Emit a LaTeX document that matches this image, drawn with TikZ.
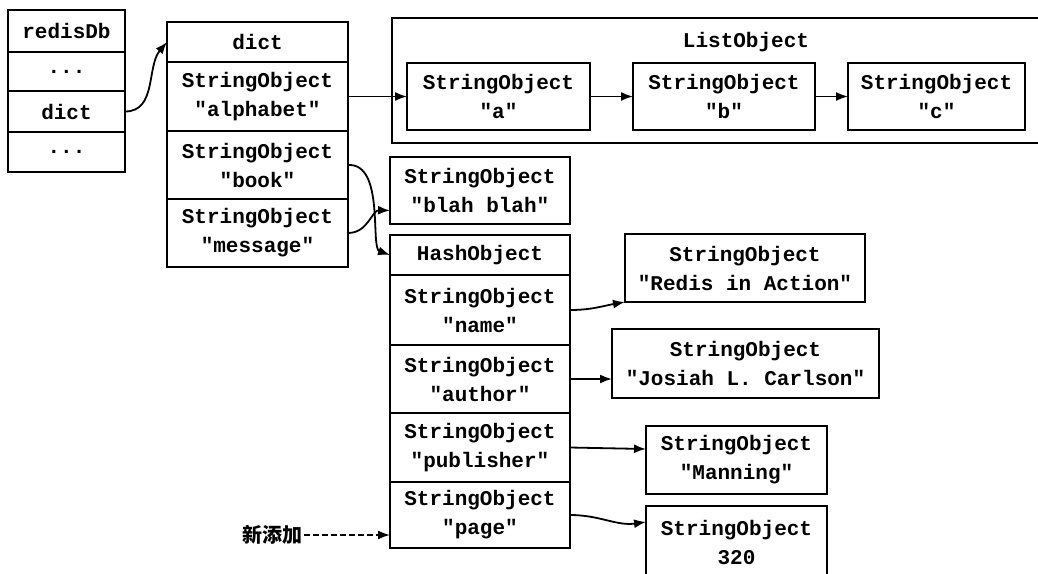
\documentclass[tikz,border=0pt]{standalone}
\usepackage{fontspec}
\setmonofont{Liberation Mono}
\newfontfamily\cjkfont{Noto Sans CJK SC}
\usetikzlibrary{arrows.meta, positioning}
\tikzset{
    cell/.style={draw, line width=1.3pt, outer sep=0pt, inner sep=0pt, align=center,
                 font=\ttfamily\bfseries\fontsize{10.5}{14.5}\selectfont},
    dbrow/.style={cell, minimum width=58.5pt},
    dictrow/.style={cell, minimum width=90.5pt},
    hashrow/.style={cell, minimum width=90pt},
    ptr/.style={-{Latex[length=6pt,width=4.5pt]}, line width=0.9pt},
}

\begin{document}
\begin{tikzpicture}[x=0.5pt, y=0.5pt]
    \useasboundingbox (0,0) rectangle (1038,-573);
    \clip (0,0) rectangle (1038,-573);

    % redisDb
    \node[dbrow, anchor=north west, minimum height=21pt] (dbHead) at (8,-10) {redisDb};
    \node[dbrow, below=0pt of dbHead, minimum height=19.5pt] (dbDotsA) {...};
    \node[dbrow, below=0pt of dbDotsA, minimum height=20.5pt] (dbDict) {dict};
    \node[dbrow, below=0pt of dbDict, minimum height=20pt] (dbDotsB) {...};

    % dict
    \node[dictrow, anchor=north west, minimum height=20pt] (dictHead) at (167,-22) {dict};
    \node[dictrow, below=0pt of dictHead, minimum height=34.5pt] (dictAlpha) {StringObject\\"alphabet"};
    \node[dictrow, below=0pt of dictAlpha, minimum height=34pt] (dictBook) {StringObject\\"book"};
    \node[dictrow, below=0pt of dictBook, minimum height=34pt] (dictMsg) {StringObject\\"message"};

    % ListObject
    \node[cell, anchor=north west, minimum width=334pt, minimum height=62.5pt] (listObj) at (392,-18) {};
    \node[font=\ttfamily\bfseries\fontsize{10.5}{14.5}\selectfont] (listTitle) at (746,-42) {ListObject};
    \node[cell, anchor=north west, minimum width=91.5pt, minimum height=33.5pt] (strA) at (407,-63) {StringObject\\"a"};
    \node[cell, anchor=north west, minimum width=91pt, minimum height=33.5pt] (strB) at (633,-63) {StringObject\\"b"};
    \node[cell, anchor=north west, minimum width=88.5pt, minimum height=33.5pt] (strC) at (848,-63) {StringObject\\"c"};

    % blah blah
    \node[cell, anchor=north west, minimum width=90pt, minimum height=33.5pt] (blah) at (390,-157) {StringObject\\"blah blah"};

    % HashObject
    \node[hashrow, anchor=north west, minimum height=20pt] (hashHead) at (390,-235) {HashObject};
    \node[hashrow, below=0pt of hashHead, minimum height=35pt] (hashName) {StringObject\\"name"};
    \node[hashrow, below=0pt of hashName, minimum height=34pt] (hashAuthor) {StringObject\\"author"};
    \node[hashrow, below=0pt of hashAuthor, minimum height=34.5pt] (hashPub) {StringObject\\"publisher"};
    \node[hashrow, below=0pt of hashPub, minimum height=33pt] (hashPage) {StringObject\\"page"};

    % values
    \node[cell, anchor=north west, minimum width=120pt, minimum height=34pt] (strRedis) at (625,-234) {StringObject\\"Redis in Action"};
    \node[cell, anchor=north west, minimum width=133.5pt, minimum height=34.5pt] (strJosiah) at (612,-329) {StringObject\\"Josiah L. Carlson"};
    \node[cell, anchor=north west, minimum width=90.5pt, minimum height=34pt] (strManning) at (646,-426) {StringObject\\"Manning"};
    \node[cell, anchor=north west, minimum width=90.5pt, minimum height=37pt] (strPage) at (646,-506) {StringObject\\320};

    \node[font=\cjkfont\bfseries\fontsize{10}{12}\selectfont, inner sep=1pt] (newTag) at (272,-535) {新添加};

    % pointers
    \draw[ptr] (dbDict.east) to[out=0, in=230] (dictHead.west);
    \draw[ptr] (dictAlpha.east) -- (strA.west);
    \draw[ptr] (strA) -- (strB);
    \draw[ptr] (strB) -- (strC);
    \draw[ptr] (dictBook.east) .. controls (385,-163) and (370,-248) .. (hashHead.west);
    \draw[ptr] (dictMsg.east) .. controls (368,-233) and (372,-210) .. ([yshift=-10pt]blah.west);
    \draw[ptr] (hashName.east) to[out=0, in=190] (strRedis.south west);
    \draw[ptr] (hashAuthor.east) -- (hashAuthor.east -| strJosiah.west);
    \draw[ptr] (hashPub.east) -- ([yshift=5.5pt]strManning.west);
    \draw[ptr] (hashPage.east) to[out=0, in=188] ([yshift=10.5pt]strPage.west);
    \draw[ptr, dash pattern=on 3pt off 1.5pt] (newTag.east) -- (newTag.east -| hashPage.west);
\end{tikzpicture}
\end{document}
